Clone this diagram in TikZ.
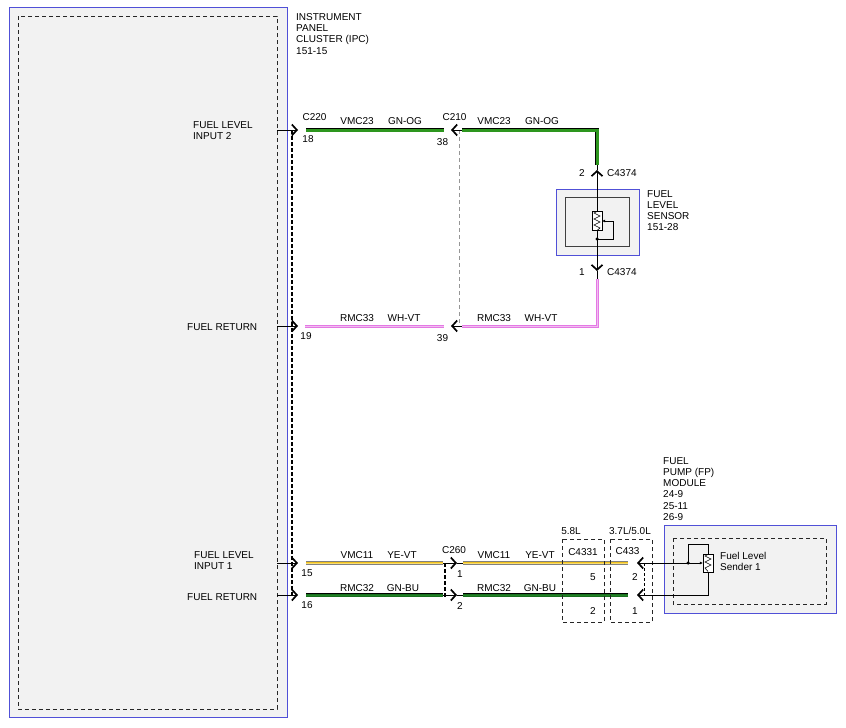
\documentclass[tikz,border=0pt]{standalone}
\usepackage{fontspec}
\setmainfont{Liberation Sans}
\usetikzlibrary{arrows.meta,positioning}
\definecolor{boxblue}{RGB}{80,80,215}
\definecolor{panelgray}{RGB}{242,242,242}
\definecolor{gngreen}{RGB}{45,150,30}
\definecolor{vtpink}{RGB}{228,120,228}
\definecolor{vtlight}{RGB}{240,190,240}
\definecolor{wtgray}{RGB}{150,150,150}
\definecolor{yeyellow}{RGB}{240,192,30}
\definecolor{yelight}{RGB}{248,220,110}
\definecolor{budark}{RGB}{25,112,30}
\definecolor{bulight}{RGB}{35,130,40}
\tikzstyle{gnog}=[line width=4.4pt,black,postaction={draw=gngreen,line width=3pt}]
\tikzstyle{whvt}=[line width=3pt,vtpink,postaction={draw=vtlight,line width=1pt}]
\tikzstyle{yevt}=[line width=4pt,black!50,postaction={draw=yeyellow,line width=2.8pt},postaction={draw=yelight,line width=1pt}]
\tikzstyle{gnbu}=[line width=4.4pt,black,postaction={draw=budark,line width=3pt},postaction={draw=bulight,line width=1pt}]
\tikzstyle{plug}=[-{Straight Barb[length=5pt,width=11pt,line width=1.7pt]},line width=0.8pt,black]

\begin{document}
\begin{tikzpicture}[x=1pt,y=-1pt,>=stealth]
    \tikzstyle{lbl}=[inner sep=0pt,font=\fontsize{10}{11.3}\selectfont,align=left]
    \tikzstyle{module}=[draw=boxblue,line width=0.9pt,fill=panelgray]
    \tikzstyle{inbox}=[draw=black!85,dash pattern=on 4pt off 3pt,line width=0.7pt]
    \tikzstyle{joint}=[circle,fill=black,inner sep=0pt,minimum size=3.5pt]
    \tikzstyle{resist}=[draw,fill=white,inner sep=0pt,minimum width=10pt,minimum height=19pt]
    \tikzstyle{wiper}=[-{Latex[length=3pt,width=3pt]},line width=0.8pt]
    \fill[white] (0,0) rectangle (846,728);
    \useasboundingbox (0,0) rectangle (846,728);

    % instrument panel cluster
    \draw[module] (9,7) rectangle (287,717);
    \draw[inbox] (18,16) rectangle (277,709);
    \node[lbl,anchor=north west] (ipc) at (296,13) {INSTRUMENT\\PANEL\\CLUSTER (IPC)\\151-15};
    \node[lbl,anchor=north west] (in2) at (193,121) {FUEL LEVEL\\INPUT 2};
    \node[lbl,anchor=west] (ret2) at (187,327) {FUEL RETURN};
    \node[lbl,anchor=north west] (in1) at (194,551) {FUEL LEVEL\\INPUT 1};
    \node[lbl,anchor=west] (ret1) at (187,597) {FUEL RETURN};

    \draw[line width=1.6pt,dash pattern=on 4pt off 2pt] (292,130) -- (292,597);
    \draw[wtgray,line width=0.6pt,dash pattern=on 4pt off 3pt] (459,130) -- (459,326);
    \draw[line width=1.4pt,dash pattern=on 4pt off 2pt] (445,563) -- (445,597);
    \foreach \n/\y in {18/130,19/326,15/563,16/595}{
        \coordinate (ipc\n) at (277,\y);
        \coordinate (c220\n) at (298,\y);
        \draw[plug] (ipc\n) -- (c220\n);
    }

    % wires
    \coordinate (wA1) at (306,130); \coordinate (wA2) at (444,130);
    \coordinate (wA3) at (462,130); \coordinate (wA4) at (597,165);
    \coordinate (wB1) at (305,326); \coordinate (wB2) at (444,326);
    \coordinate (wB3) at (462,326); \coordinate (wB4) at (597,279);
    \coordinate (wC1) at (306,563); \coordinate (wC2) at (443,563);
    \coordinate (wC3) at (463,563); \coordinate (wC4) at (628,563);
    \coordinate (wD1) at (306,595); \coordinate (wD2) at (443,595);
    \coordinate (wD3) at (463,595); \coordinate (wD4) at (628,595);
    \coordinate (c210A) at (451,130); \coordinate (c210B) at (451,326);
    \coordinate (c260C) at (457,563); \coordinate (c260D) at (457,595);
    \draw[plug] (wA3) -- (c210A);
    \draw[plug] (wB3) -- (c210B);
    \draw[plug] (wC2) -- (c260C); \draw[line width=0.8pt] (c260C) -- (wC3);
    \draw[plug] (wD2) -- (c260D); \draw[line width=0.8pt] (c260D) -- (wD3);
    \draw[gnog] (wA1) -- (wA2);
    \draw[gnog] (wA3) -| (wA4);
    \draw[whvt] (wB1) -- (wB2);
    \draw[whvt] (wB4) |- (wB3);
    \draw[yevt] (wC1) -- (wC2);
    \draw[yevt] (wC3) -- (wC4);
    \draw[gnbu] (wD1) -- (wD2);
    \draw[gnbu] (wD3) -- (wD4);

    \foreach \t/\x/\y [count=\i] in {VMC23/357/121,GN-OG/405/121,VMC23/494/121,GN-OG/542/121,
        RMC33/357/318,WH-VT/404/318,RMC33/494/318,WH-VT/541/318,
        VMC11/357/555,YE-VT/402/555,VMC11/494/555,YE-VT/540/555,
        RMC32/357/588,GN-BU/403/588,RMC32/494/588,GN-BU/540/588}
        \node[lbl] (wl\i) at (\x,\y) {\t};
    \foreach \t/\x/\y [count=\i] in {C220/314.5/117,18/308/139,C210/454.5/117,38/442.5/142,
        19/306/336,39/442.5/338,C260/454/550,15/307/573,1/460/574,16/307/605,2/460/606,
        5.8L/571/531,C4331/583/552,C433/627.5/551,5/593/577,2/635/577,2/593/611,1/635/611}
        \node[lbl] (pl\i) at (\x,\y) {\t};
    \node[lbl] (eng) at (630,531) {3.7L/5.0L};

    % fuel level sensor
    \draw[module] (556,189) rectangle (639,255);
    \draw[draw=black!75,fill=panelgray,line width=0.7pt] (565,197) rectangle (629,246);
    \node[lbl,anchor=north west] (sns) at (647,190) {FUEL\\LEVEL\\SENSOR\\151-28};
    \node[resist] (r1) at (597,221) {};
    \draw[line width=0.6pt] (597,211.5) -- (594,213) -- (600,216) -- (594,219) -- (600,222)
        -- (594,225) -- (600,228) -- (597,230.5);
    \coordinate (c4374b) at (597,170);
    \coordinate (c4374a) at (597,271);
    \draw[plug] (r1.north) -- (c4374b);
    \draw[line width=0.8pt] (c4374b) -- (wA4);
    \draw[plug] (r1.south) -- (c4374a);
    \draw[line width=0.8pt] (c4374a) -- (wB4);
    \node[joint] (j1) at (597,239) {};
    \coordinate (wip1) at (613,221);
    \draw[line width=0.8pt] (j1.center) -| (wip1);
    \draw[wiper] (wip1) -- (r1.east);
    \node[lbl] (pin2) at (582,173) {2};
    \node[lbl,anchor=west] (cn2) at (607,173) {C4374};
    \node[lbl] (pin1) at (582,272) {1};
    \node[lbl,anchor=west] (cn1) at (607,272) {C4374};

    % in-line connectors
    \draw[inbox] (562,539) rectangle (604,622);
    \draw[inbox] (610,539) rectangle (652,622);
    \draw[line width=0.6pt,dash pattern=on 3pt off 2pt] (644,563) -- (644,597);

    % fuel pump module
    \draw[module] (664,525) rectangle (836,613);
    \draw[inbox] (673,538) rectangle (826,604);
    \node[lbl,anchor=north west] (fp) at (663,457) {FUEL\\PUMP (FP)\\MODULE\\24-9\\25-11\\26-9};
    \node[resist,minimum height=18pt] (r2) at (708,563) {};
    \draw[line width=0.6pt] (708,554.5) -- (705,556) -- (711,559) -- (705,562) -- (711,565)
        -- (705,568) -- (708,571.5);
    \node[joint] (j2) at (688,563) {};
    \coordinate (c433C) at (637,563);
    \coordinate (c433D) at (637,595);
    \coordinate (top2) at (708,544);
    \draw[line width=0.8pt] (r2.north) -- (top2) -| (j2.center);
    \draw[wiper] (j2.center) -- (r2.west);
    \draw[plug] (j2.center) -- (c433C);
    \draw[plug] (r2.south) |- (c433D);
    \node[lbl,anchor=north west] (snd) at (720,552) {Fuel Level\\Sender 1};
\end{tikzpicture}
\end{document}
